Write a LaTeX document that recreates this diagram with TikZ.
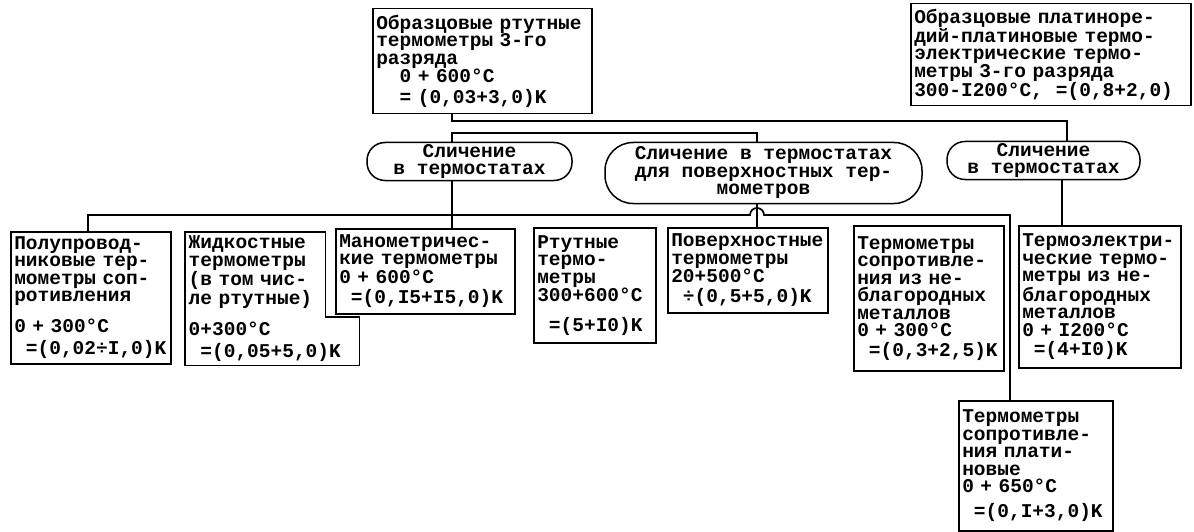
\documentclass[tikz,border=0pt]{standalone}
\usepackage{fontspec}
\setmonofont{Liberation Mono}
\usepackage{tikz}
\usetikzlibrary{positioning,calc}

\newcommand\indsp{\hspace*{0.6em}}

\begin{document}
\begin{tikzpicture}[x=1pt, y=-1pt,
		every node/.style={font=\ttfamily\bfseries\fontsize{19.5}{17.5}\selectfont},
		box/.style={draw, line width=1.5pt, anchor=north west, align=left, inner sep=3.5pt},
		oval/.style={draw, line width=1.5pt, align=center, inner sep=0pt},
		link/.style={line width=1.7pt}]
		\useasboundingbox (0,0) rectangle (1194,532);

		% top level
		\node[box, text width=212pt, minimum height=105pt] (obrHg) at (372,8) {Образцовые ртутные\\термометры 3-го\\разряда\\\indsp\indsp0 + 600°C\\[3pt]\indsp\indsp= (0,03+3,0)K};
		\node[box, text width=273pt, minimum height=102pt] (obrPt) at (910,3) {Образцовые платиноре-\\дий-платиновые термо-\\электрические термо-\\метры 3-го разряда\\300-I200°C,\ \ =(0,8+2,0)};

		% comparison
		\node[oval, minimum width=205pt, minimum height=38pt, rounded corners=18pt] (cmp1) at (469.5,161.5) {Сличение\\в термостатах};
		\node[oval, minimum width=317pt, minimum height=61pt, rounded corners=28pt] (cmp2) at (763.5,173) {Сличение в термостатах\\для поверхностных тер-\\мометров};
		\node[oval, minimum width=193pt, minimum height=38pt, rounded corners=18pt] (cmp3) at (1043.5,160.5) {Сличение\\в термостатах};

		% working thermometers
		\node[box, text width=153pt, minimum height=132pt] (semi) at (10,231) {Полупровод-\\никовые тер-\\мометры соп-\\ротивления\\[12pt]0 + 300°C\\[5pt]\indsp=(0,02÷I,0)K};
		\node[anchor=north west, align=left, inner sep=3.5pt, text width=133pt, minimum height=131pt] (liq) at (185,232) {Жидкостные\\термометры\\(в том чис-\\ле ртутные)\\[12pt]0+300°C\\[5pt]\indsp=(0,05+5,0)K};
		\draw[line width=1.5pt] (liq.north west) -- (liq.north east) -- ($(liq.north east)+(0,85)$) -- ++(34,0) -- ($(liq.south east)+(34,0)$) -- (liq.south west) -- cycle;
		\node[box, text width=172pt, minimum height=85pt] (mano) at (335,228) {Манометричес-\\кие термометры\\0 + 600°C\\[3pt]\indsp=(0,I5+I5,0)K};
		\node[box, text width=115pt, minimum height=115pt] (hgth) at (533,227) {Ртутные\\термо-\\метры\\300+600°C\\[12pt]\indsp=(5+I0)K};
		\node[box, text width=153pt, minimum height=85pt] (surf) at (667,227) {Поверхностные\\термометры\\20+500°C\\[2pt]\indsp÷(0,5+5,0)K};
		\node[box, text width=143pt, minimum height=145pt] (resb) at (853,225) {Термометры\\сопротивле-\\ния из не-\\благородных\\металлов\\0 + 300°C\\[2pt]\indsp=(0,3+2,5)K};
		\node[box, text width=155pt, minimum height=142pt] (thel) at (1018,225) {Термоэлектри-\\ческие термо-\\метры из не-\\благородных\\металлов\\0 + I200°C\\[2pt]\indsp=(4+I0)K};
		\node[box, text width=147pt, minimum height=130pt] (plat) at (958,400) {Термометры\\сопротивле-\\ния плати-\\новые\\0 + 650°C\\[7pt]\indsp=(0,I+3,0)K};

		% connectors
		\coordinate (ja) at (452,121);
		\coordinate (jc) at (1067,121);
		\coordinate (ka) at (452,133);
		\coordinate (kb) at (757,133);
		\coordinate (kc) at (1062,190);
		\coordinate (bl) at (88,215);
		\coordinate (br) at (1010,215);
		\draw[link] (ja |- obrHg.south) -- (ja) -- (jc) -- (jc |- cmp3.north);
		\draw[link] (ka |- cmp1.north) -- (ka) -- (kb) -- (kb |- cmp2.north);
		\draw[link] (ka |- cmp1.south) -- (ka |- mano.north);
		\draw[link] (kb |- cmp2.south) -- (kb |- surf.north);
		\draw[link] (kc |- cmp3.south) -- (kc |- thel.north);
		\draw[link] (bl |- semi.north) -- (bl) -- ($(kb |- bl)+(-7,0)$) arc[start angle=180, end angle=0, radius=7pt] -- (br) -- (br |- plat.north);
	\end{tikzpicture}
\end{document}
